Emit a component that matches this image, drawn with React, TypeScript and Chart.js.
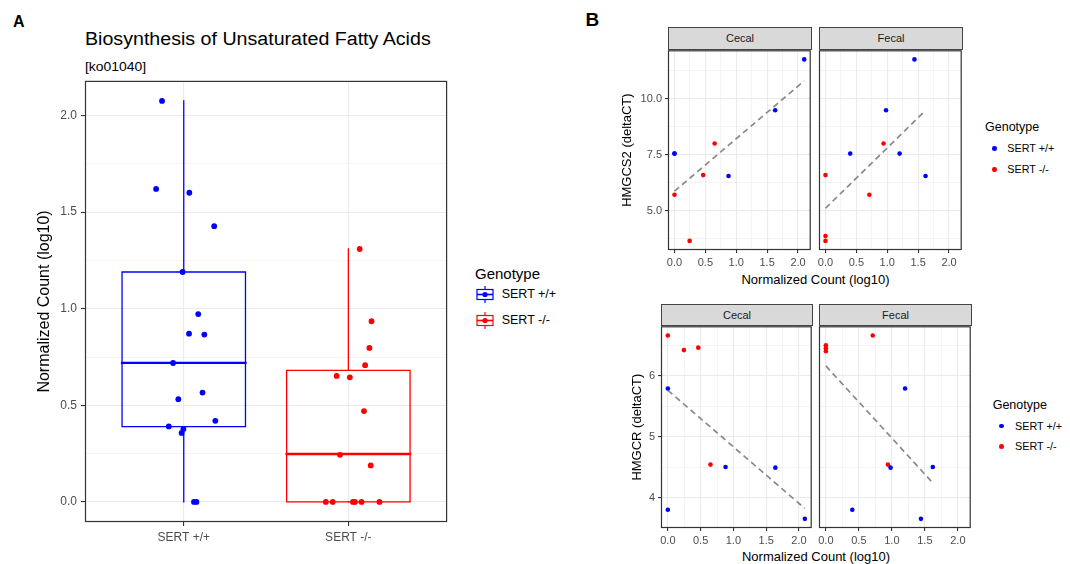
import React, { useEffect, useRef } from 'react';
import { Chart, registerables } from 'chart.js';

Chart.register(...registerables);

const FONT = "'Liberation Sans', Arial, Helvetica, sans-serif";
const BLUE = '#0000ff';
const RED = '#ff0000';
const GRID = '#ebebeb';
const TICK_TEXT = '#4d4d4d';
const DARK = '#333333';
const FIT_COLOR = '#8a8a8a';

// ---------------- Panel A data ----------------
const categoriesA = ['SERT +/+', 'SERT -/-'];
const genotypes = ['SERT +/+', 'SERT -/-'];
const yTicksA = [0, 0.5, 1.0, 1.5, 2.0];
const yTickLabelsA = ['0.0', '0.5', '1.0', '1.5', '2.0'];
const wtCountsA = [2.075, 1.62, 1.6, 1.427, 1.19, 0.972, 0.871, 0.866, 0.719, 0.566, 0.532, 0.42, 0.391, 0.378, 0.357, 0, 0];
const wtJitterA = [-0.132, -0.168, 0.034, 0.185, -0.007, 0.088, 0.032, 0.125, -0.065, 0.114, -0.033, 0.192, -0.091, -0.002, -0.013, 0.062, 0.077];
const koCountsA = [1.309, 0.935, 0.797, 0.708, 0.652, 0.645, 0.47, 0.244, 0.189, 0, 0, 0, 0, 0, 0];
const koJitterA = [0.069, 0.141, 0.128, 0.102, -0.071, 0.009, 0.095, -0.051, 0.136, -0.137, -0.095, 0.028, 0.04, 0.08, 0.189];
// [lower whisker, Q1, median, Q3, upper whisker]
const wtBoxA = [0, 0.39, 0.72, 1.19, 2.075];
const koBoxA = [0, 0, 0.248, 0.681, 1.31];

// ---------------- Panel B data ----------------
const xTicksB = [0, 0.5, 1.0, 1.5, 2.0];
const xTickLabelsB = ['0.0', '0.5', '1.0', '1.5', '2.0'];
const hmgcs2Ticks = [5.0, 7.5, 10.0];
const hmgcs2TickLabels = ['5.0', '7.5', '10.0'];
const hmgcrTicks = [4, 5, 6];
const hmgcrTickLabels = ['4', '5', '6'];

const hmgcs2CecalWtX = [0, 0, 0.875, 1.63, 2.1];
const hmgcs2CecalWtY = [7.54, 7.54, 6.54, 9.48, 11.75];
const hmgcs2CecalKoX = [0, 0.245, 0.464, 0.65];
const hmgcs2CecalKoY = [5.7, 3.64, 6.58, 7.99];
const hmgcs2CecalFit = [5.86, 10.79];

const hmgcs2FecalWtX = [1.44, 0.98, 0.4, 1.2, 1.62];
const hmgcs2FecalWtY = [11.75, 9.48, 7.54, 7.54, 6.54];
const hmgcs2FecalKoX = [0.94, 0.71, 0, 0, 0];
const hmgcs2FecalKoY = [7.99, 5.7, 6.58, 3.86, 3.64];
const hmgcs2FecalFit = [5.1, 9.47];

const hmgcrCecalWtX = [0, 0, 0.88, 1.64, 2.09];
const hmgcrCecalWtY = [5.79, 3.8, 4.5, 4.49, 3.65];
const hmgcrCecalKoX = [0, 0.245, 0.464, 0.65];
const hmgcrCecalKoY = [6.66, 6.42, 6.46, 4.54];
const hmgcrCecalFit = [5.76, 3.82];

const hmgcrFecalWtX = [1.2, 0.98, 0.4, 1.44, 1.62];
const hmgcrFecalWtY = [5.79, 4.49, 3.8, 3.65, 4.5];
const hmgcrFecalKoX = [0.71, 0.94, 0, 0, 0];
const hmgcrFecalKoY = [6.66, 4.54, 6.5, 6.45, 6.4];
const hmgcrFecalFit = [6.16, 4.24];

// ---------------- helpers ----------------
const expand = (vals: number[]): [number, number] => {
  const mn = Math.min(...vals);
  const mx = Math.max(...vals);
  const d = (mx - mn) * 0.05;
  return [mn - d, mx + d];
};

const minorsFor = (majors: number[], range: [number, number]) => {
  const step = majors[1] - majors[0];
  const out: number[] = [];
  for (let v = majors[0] - step / 2; v <= range[1] + 1e-9; v += step) {
    if (v >= range[0] - 1e-3) out.push(v);
  }
  return out;
};

const pts = (xs: number[], ys: number[]) => xs.map((x, i) => ({ x, y: ys[i] }));

const panelBorder = {
  id: 'panelBorder',
  afterDatasetsDraw(chart: any) {
    const { ctx, chartArea: a } = chart;
    ctx.save();
    ctx.strokeStyle = DARK;
    ctx.lineWidth = 1.2;
    ctx.strokeRect(a.left + 0.5, a.top + 0.5, a.right - a.left - 1, a.bottom - a.top - 1);
    ctx.restore();
  },
};

type AxisOpts = {
  position: 'left' | 'bottom';
  range: [number, number];
  majors: number[];
  labels: string[];
  minors: number[];
  size: number;
  showLabels: boolean;
  fontSize: number;
  tickLength: number;
  padding: number;
  title?: { text: string; size: number; pad: number };
};

function makeAxis(o: AxisOpts) {
  const isMajor = (v: number) => o.majors.some((m) => Math.abs(m - v) < 1e-9);
  const all = [...o.majors, ...o.minors].sort((a, b) => a - b);
  return {
    type: 'linear',
    position: o.position,
    min: o.range[0],
    max: o.range[1],
    bounds: 'data',
    afterBuildTicks: (s: any) => {
      s.ticks = all.map((v) => ({ value: v }));
    },
    afterFit: (s: any) => {
      if (o.position === 'left') s.width = o.size;
      else s.height = o.size;
      s.paddingTop = 0;
      s.paddingBottom = 0;
      s.paddingLeft = 0;
      s.paddingRight = 0;
    },
    grid: {
      color: GRID,
      lineWidth: (c: any) => (c.tick && isMajor(c.tick.value) ? 1.1 : 0.55),
      drawTicks: o.showLabels,
      tickLength: o.tickLength,
      tickWidth: 1.1,
      tickColor: (c: any) => (c.tick && isMajor(c.tick.value) ? DARK : 'rgba(0,0,0,0)'),
    },
    border: { display: false },
    ticks: {
      display: o.showLabels,
      autoSkip: false,
      maxRotation: 0,
      minRotation: 0,
      padding: o.padding,
      color: TICK_TEXT,
      font: { family: FONT, size: o.fontSize },
      callback: (v: number) => {
        const i = o.majors.findIndex((m) => Math.abs(m - v) < 1e-9);
        return i >= 0 ? o.labels[i] : '';
      },
    },
    title: o.title
      ? {
          display: true,
          text: o.title.text,
          color: '#000',
          font: { family: FONT, size: o.title.size },
          padding: { top: o.title.pad, bottom: 0 },
        }
      : { display: false },
  };
}

const lineDs = (data: any[], color: string, width: number, dash: number[] = []) => ({
  data,
  showLine: true,
  borderColor: color,
  borderWidth: width,
  borderDash: dash,
  borderCapStyle: dash.length ? 'butt' : 'square',
  borderJoinStyle: 'miter',
  pointRadius: 0,
  pointHoverRadius: 0,
  pointHitRadius: 0,
  fill: false,
  tension: 0,
  order: 2,
});

const pointDs = (data: any[], color: string, r: number) => ({
  data,
  showLine: false,
  pointRadius: r,
  pointHoverRadius: r,
  pointBackgroundColor: color,
  pointBorderColor: color,
  pointBorderWidth: 0,
  order: 0,
});

const BOX_HALF = 0.375;
function boxDatasets(center: number, stats: number[], color: string) {
  const [lo, q1, med, q3, hi] = stats;
  const h = BOX_HALF;
  return [
    lineDs(
      [
        { x: center - h, y: q1 },
        { x: center + h, y: q1 },
        { x: center + h, y: q3 },
        { x: center - h, y: q3 },
        { x: center - h, y: q1 },
      ],
      color,
      1.3
    ),
    lineDs([{ x: center - h, y: med }, { x: center + h, y: med }], color, 2.3),
    lineDs([{ x: center, y: q3 }, { x: center, y: hi }], color, 1.3),
    lineDs([{ x: center, y: lo }, { x: center, y: q1 }], color, 1.3),
  ];
}

function baseOptions(scales: any, padding: any) {
  return {
    animation: false,
    responsive: false,
    maintainAspectRatio: false,
    events: [],
    layout: { padding },
    plugins: { legend: { display: false }, tooltip: { enabled: false }, title: { display: false } },
    scales,
  };
}

// ---------------- Panel A config ----------------
function makePanelA() {
  const yRange = expand([...wtCountsA, ...koCountsA]);
  const wtPts = wtCountsA.map((y, i) => ({ x: 1 + wtJitterA[i], y }));
  const koPts = koCountsA.map((y, i) => ({ x: 2 + koJitterA[i], y }));
  return {
    type: 'scatter',
    data: {
      datasets: [
        pointDs(wtPts, BLUE, 2.9),
        pointDs(koPts, RED, 2.9),
        ...boxDatasets(1, wtBoxA, BLUE),
        ...boxDatasets(2, koBoxA, RED),
      ],
    },
    options: baseOptions(
      {
        x: makeAxis({
          position: 'bottom',
          range: [0.4, categoriesA.length + 0.6],
          majors: categoriesA.map((_, i) => i + 1),
          labels: categoriesA,
          minors: [],
          size: 26,
          showLabels: true,
          fontSize: 12,
          tickLength: 4,
          padding: 4,
        }),
        y: makeAxis({
          position: 'left',
          range: yRange,
          majors: yTicksA,
          labels: yTickLabelsA,
          minors: minorsFor(yTicksA, yRange),
          size: 65,
          showLabels: true,
          fontSize: 12,
          tickLength: 4,
          padding: 4,
          title: { text: 'Normalized Count (log10)', size: 16, pad: 15 },
        }),
      },
      { top: 1, right: 1, left: 0, bottom: 0 }
    ),
    plugins: [panelBorder],
  };
}

// ---------------- Panel B config ----------------
type Facet = {
  wtX: number[];
  wtY: number[];
  koX: number[];
  koY: number[];
  fit: number[];
};

function makeFacet(
  f: Facet,
  xRange: [number, number],
  yRange: [number, number],
  yMajors: number[],
  yLabels: string[],
  showY: boolean,
  yAxisWidth: number,
  yTitle: string | null,
  yTitlePad: number,
  padLeft: number
) {
  const xs = [...f.wtX, ...f.koX];
  const fitLine = [
    { x: Math.min(...xs), y: f.fit[0] },
    { x: Math.max(...xs), y: f.fit[1] },
  ];
  return {
    type: 'scatter',
    data: {
      datasets: [
        pointDs(pts(f.wtX, f.wtY), BLUE, 2.3),
        pointDs(pts(f.koX, f.koY), RED, 2.3),
        { ...lineDs(fitLine, FIT_COLOR, 1.7, [6, 4]), order: 1 },
      ],
    },
    options: baseOptions(
      {
        x: makeAxis({
          position: 'bottom',
          range: xRange,
          majors: xTicksB,
          labels: xTickLabelsB,
          minors: minorsFor(xTicksB, xRange),
          size: 20,
          showLabels: true,
          fontSize: 11,
          tickLength: 3,
          padding: 3,
        }),
        y: makeAxis({
          position: 'left',
          range: yRange,
          majors: yMajors,
          labels: yLabels,
          minors: minorsFor(yMajors, yRange),
          size: yAxisWidth,
          showLabels: showY,
          fontSize: 11,
          tickLength: 3,
          padding: 3,
          title: yTitle ? { text: yTitle, size: 13, pad: yTitlePad } : undefined,
        }),
      },
      { top: 1, right: 1, left: padLeft, bottom: 0 }
    ),
    plugins: [panelBorder],
  };
}

const cs2Cecal: Facet = { wtX: hmgcs2CecalWtX, wtY: hmgcs2CecalWtY, koX: hmgcs2CecalKoX, koY: hmgcs2CecalKoY, fit: hmgcs2CecalFit };
const cs2Fecal: Facet = { wtX: hmgcs2FecalWtX, wtY: hmgcs2FecalWtY, koX: hmgcs2FecalKoX, koY: hmgcs2FecalKoY, fit: hmgcs2FecalFit };
const crCecal: Facet = { wtX: hmgcrCecalWtX, wtY: hmgcrCecalWtY, koX: hmgcrCecalKoX, koY: hmgcrCecalKoY, fit: hmgcrCecalFit };
const crFecal: Facet = { wtX: hmgcrFecalWtX, wtY: hmgcrFecalWtY, koX: hmgcrFecalKoX, koY: hmgcrFecalKoY, fit: hmgcrFecalFit };

const allX = (a: Facet, b: Facet) => [...a.wtX, ...a.koX, ...b.wtX, ...b.koX];
const allY = (a: Facet, b: Facet) => [...a.wtY, ...a.koY, ...b.wtY, ...b.koY];

const cs2XRange = expand(allX(cs2Cecal, cs2Fecal));
const cs2YRange = expand(allY(cs2Cecal, cs2Fecal));
const crXRange = expand(allX(crCecal, crFecal));
const crYRange = expand(allY(crCecal, crFecal));

// ---------------- components ----------------
function ChartCanvas({ make, left, top, width, height }: any) {
  const ref = useRef<HTMLCanvasElement | null>(null);
  useEffect(() => {
    const chart = new Chart(ref.current as HTMLCanvasElement, make());
    return () => chart.destroy();
  }, []);
  return (
    <canvas
      ref={ref}
      width={width}
      height={height}
      style={{ position: 'absolute', left, top, width, height }}
    />
  );
}

function T({ x, y, size, text, bold = false, align = 'left', color = '#000', sx = 1 }: any) {
  const style: any = {
    position: 'absolute',
    left: x,
    top: y - size / 2,
    fontSize: size,
    lineHeight: `${size}px`,
    fontFamily: FONT,
    fontWeight: bold ? 700 : 400,
    color,
    whiteSpace: 'nowrap',
    transform: `${align === 'center' ? 'translateX(-50%) ' : ''}scaleX(${sx})`,
    transformOrigin: align === 'center' ? 'center center' : 'left center',
  };
  return <div style={style}>{text}</div>;
}

function BoxKey({ left, top, color }: any) {
  return (
    <svg width={18} height={17} style={{ position: 'absolute', left, top }}>
      <line x1={9} y1={0} x2={9} y2={3.5} stroke={color} strokeWidth={1.2} />
      <rect x={1} y={3.5} width={16} height={10} fill="#fff" stroke={color} strokeWidth={1.2} />
      <line x1={1} y1={8.5} x2={17} y2={8.5} stroke={color} strokeWidth={1.6} />
      <line x1={9} y1={13.5} x2={9} y2={17} stroke={color} strokeWidth={1.2} />
      <circle cx={9} cy={8.5} r={2.6} fill={color} />
    </svg>
  );
}

function Dot({ x, y, color }: any) {
  return (
    <div
      style={{
        position: 'absolute',
        left: x - 2.3,
        top: y - 2.3,
        width: 4.6,
        height: 4.6,
        borderRadius: '50%',
        background: color,
      }}
    />
  );
}

function Strip({ left, top, width, height, text }: any) {
  return (
    <div
      style={{
        position: 'absolute',
        left,
        top,
        width,
        height,
        boxSizing: 'border-box',
        border: '1px solid #444',
        background: '#d9d9d9',
        color: '#1a1a1a',
        fontFamily: FONT,
        fontSize: 11,
        lineHeight: `${height - 2}px`,
        textAlign: 'center',
      }}
    >
      {text}
    </div>
  );
}

export default function App() {
  return (
    <div
      style={{
        position: 'absolute',
        left: 0,
        top: 0,
        width: 1070,
        height: 564,
        background: '#fff',
        overflow: 'hidden',
      }}
    >
      {/* Panel A */}
      <T x={13} y={21.5} size={16} bold text="A" />
      <T x={85} y={38.5} size={18} sx={1.09} text="Biosynthesis of Unsaturated Fatty Acids" />
      <T x={85} y={66.5} size={13} sx={1.07} text="[ko01040]" />
      <ChartCanvas make={makePanelA} left={20} top={78} width={430} height={470} />
      <T x={475} y={273} size={15} text="Genotype" />
      <BoxKey left={476} top={285.5} color={BLUE} />
      <T x={501.7} y={294} size={12.5} text={genotypes[0]} />
      <BoxKey left={476} top={311.5} color={RED} />
      <T x={501.7} y={320} size={12.5} text={genotypes[1]} />

      {/* Panel B */}
      <T x={585.5} y={19.3} size={19} bold text="B" />

      <Strip left={668} top={27} width={144} height={23} text="Cecal" />
      <Strip left={819} top={27} width={144} height={23} text="Fecal" />
      <ChartCanvas
        make={() => makeFacet(cs2Cecal, cs2XRange, cs2YRange, hmgcs2Ticks, hmgcs2TickLabels, true, 68, 'HMGCS2 (deltaCT)', 20, 0)}
        left={600}
        top={48}
        width={213}
        height={222}
      />
      <ChartCanvas
        make={() => makeFacet(cs2Fecal, cs2XRange, cs2YRange, hmgcs2Ticks, hmgcs2TickLabels, false, 0, null, 0, 11)}
        left={808}
        top={48}
        width={156}
        height={222}
      />
      <T x={815.5} y={279.3} size={13} align="center" text="Normalized Count (log10)" />
      <T x={985} y={127.7} size={12.5} text="Genotype" />
      <Dot x={994.3} y={148.3} color={BLUE} />
      <T x={1007.3} y={148.3} size={10.8} text={genotypes[0]} />
      <Dot x={994.3} y={169.3} color={RED} />
      <T x={1007.3} y={169.3} size={10.8} text={genotypes[1]} />

      <Strip left={661} top={304} width={152} height={22} text="Cecal" />
      <Strip left={819} top={304} width={153} height={22} text="Fecal" />
      <ChartCanvas
        make={() => makeFacet(crCecal, crXRange, crYRange, hmgcrTicks, hmgcrTickLabels, true, 61, 'HMGCR (deltaCT)', 29.7, 0)}
        left={600}
        top={324}
        width={214}
        height={224}
      />
      <ChartCanvas
        make={() => makeFacet(crFecal, crXRange, crYRange, hmgcrTicks, hmgcrTickLabels, false, 0, null, 0, 11)}
        left={808}
        top={324}
        width={165}
        height={224}
      />
      <T x={816} y={556.7} size={13} align="center" text="Normalized Count (log10)" />
      <T x={992.7} y={405.7} size={12.5} text="Genotype" />
      <Dot x={1001.7} y={426} color={BLUE} />
      <T x={1015} y={426} size={10.8} text={genotypes[0]} />
      <Dot x={1001.7} y={446.3} color={RED} />
      <T x={1015} y={446.3} size={10.8} text={genotypes[1]} />
    </div>
  );
}
